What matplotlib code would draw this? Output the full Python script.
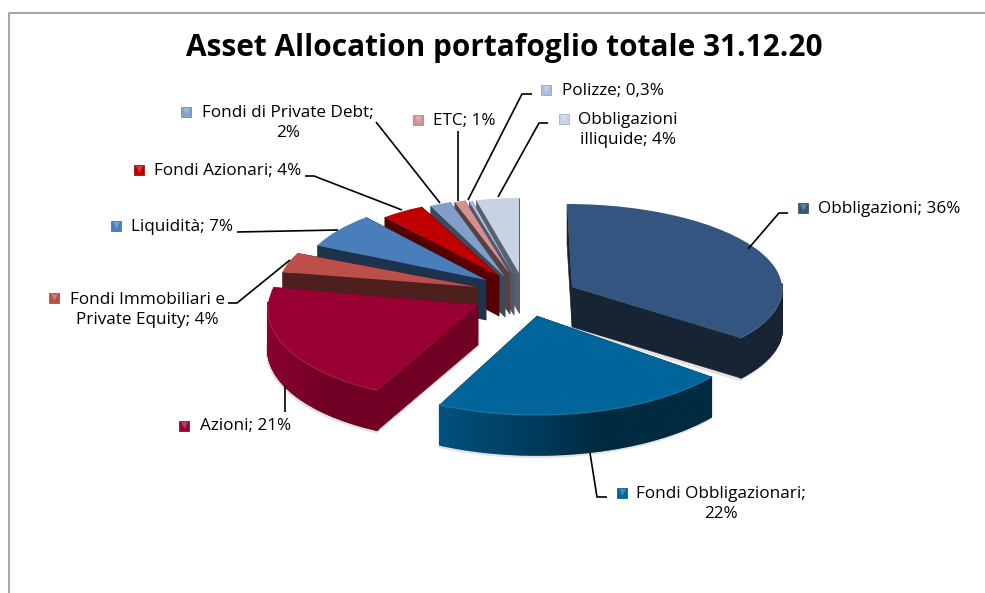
import numpy as np
import matplotlib
matplotlib.use("Agg")
import matplotlib.pyplot as plt
from matplotlib.colors import to_rgb
from matplotlib.patches import Polygon
from matplotlib.collections import PolyCollection
from matplotlib.lines import Line2D
from matplotlib.transforms import Affine2D

# ---------- data ----------
title = "Asset Allocation portafoglio totale 31.12.20"
categories = ["Obbligazioni", "Fondi Obbligazionari", "Azioni", "Fondi Immobiliari e Private Equity",
              "Liquidità", "Fondi Azionari", "Fondi di Private Debt", "ETC", "Polizze", "Obbligazioni illiquide"]
values = [36, 22, 21, 4, 7, 4, 2, 1, 0.3, 4]
labels = ["Obbligazioni; 36%", "Fondi Obbligazionari;\n22%", "Azioni; 21%",
          "Fondi Immobiliari e\nPrivate Equity; 4%", "Liquidità; 7%", "Fondi Azionari; 4%",
          "Fondi di Private Debt;\n2%", "ETC; 1%", "Polizze; 0,3%", "Obbligazioni\nilliquide; 4%"]

# ---------- style ----------
top_colors = ["#34557f", "#00659a", "#990033", "#bc4f4a", "#4a7eba", "#c00000", "#829fc9", "#d39291", "#a9bfdc", "#c7d2e5"]
side_left = ["#162434", "#00527f", "#8a002e", "#4f1f1e", "#1d324b", "#570000", "#3d4a5e", "#5a4141", "#4e5a6b", "#5a606b"]
side_right = ["#162434", "#002a40", "#6f0024", "#4f1f1e", "#1d324b", "#570000", "#3d4a5e", "#5a4141", "#4e5a6b", "#5a606b"]

# ---------- layout (pixels of the 985x593 picture; pseudo-perspective per slice) ----------
W, H = 985, 593
apex = [(572, 287), (537, 316), (478, 305), (477, 287), (486, 280), (499, 276), (505, 277), (510, 274), (514, 275), (519, 273)]
radii = [(210, 83), (221, 99), (210, 95), (198, 80), (186, 82), (177, 77), (170, 79), (171, 76), (170, 76), (174, 75)]
shear = [-5, 0, 9, 0, 0, 0, 0, 0, 0, 0]
depth = 40
paint_order = [0, 9, 8, 7, 6, 5, 4, 3, 2, 1]
text_pos = [(889, 209), (721, 504), (246, 426), (147, 310), (182, 227), (228, 171), (288, 123), (464, 121), (613, 91), (628, 130)]
marker_pos = [(803, 208), (622, 493), (184, 426), (54, 298), (116, 226), (139, 170), (186, 112), (418, 120), (546, 90), (564, 119)]
leaders = [[(748, 249), (779, 213), (788, 213)],
           [(590, 453), (597, 497), (607, 497)],
           [(285, 385), (285, 412)],
           [(290, 260), (237, 303), (228, 303)],
           [(338, 230), (237, 232)],
           [(402, 210), (314, 176), (305, 176)],
           [(440, 203), (376, 122)],
           [(458, 201), (458, 131)],
           [(468, 200), (522, 94), (532, 94)],
           [(498, 197), (539, 123), (548, 123)]]

plt.rcParams["font.family"] = ["Open Sans", "DejaVu Sans"]
fig = plt.figure(figsize=(W / 100, H / 100), dpi=100, facecolor="white")
ax = fig.add_axes([0, 0, 1, 1])
wedges, _ = ax.pie(values, startangle=90, counterclock=False, colors=top_colors, wedgeprops=dict(linewidth=0))
ax.set_aspect("auto")
ax.set_xlim(0, W)
ax.set_ylim(0, H)
ax.axis("off")


def mix(a, b, t):
    a, b = np.array(to_rgb(a)), np.array(to_rgb(b))
    return tuple(a + (b - a) * t)


for z, i in enumerate(paint_order):
    w = wedges[i]
    px, py = apex[i]
    Ax, Ay = px, H - py
    rx, ry = radii[i]
    sx = shear[i]
    w.set_transform(Affine2D.from_values(rx, 0, sx, ry, Ax, Ay) + ax.transData)
    base = 10 + z * 10
    w.set_zorder(base + 5)
    ang = np.radians(np.arange(w.theta1, w.theta2 + 0.01, 1.0))
    if ang[-1] < np.radians(w.theta2):
        ang = np.append(ang, np.radians(w.theta2))
    xs, ys = Ax + rx * np.cos(ang) + sx * np.sin(ang), Ay + ry * np.sin(ang)
    # soft shadow under the slice
    front = np.sin(ang) < 0.15
    if front.any():
        sxs, sys = xs[front], ys[front]
        ax.add_patch(Polygon(np.r_[np.c_[sxs - 1, sys - depth - 2], [[Ax - 1, Ay - depth - 2]]],
                             closed=True, fc="#e2e2e2", ec="#e2e2e2", lw=1.5, zorder=base))
    # radial cut faces
    for k in (0, -1):
        ax.add_patch(Polygon([(Ax, Ay), (xs[k], ys[k]), (xs[k], ys[k] - depth), (Ax, Ay - depth)],
                             closed=True, fc=side_right[i], ec=side_right[i], lw=0.4, zorder=base + 1))
    # outer rim, strip by strip
    polys, cols = [], []
    x0, x1 = xs.min(), xs.max()
    for j in range(len(ang) - 1):
        if np.sin(ang[j]) < 0.02 or np.sin(ang[j + 1]) < 0.02:
            polys.append([(xs[j], ys[j]), (xs[j + 1], ys[j + 1]),
                          (xs[j + 1], ys[j + 1] - depth), (xs[j], ys[j] - depth)])
            t = min(1.0, (0.5 * (xs[j] + xs[j + 1]) - x0) / max(x1 - x0, 1) * 1.7)
            cols.append(mix(side_left[i], side_right[i], t))
    if polys:
        ax.add_collection(PolyCollection(polys, facecolors=cols, edgecolors=cols, linewidths=1.2, zorder=base + 2))
        # bevel highlight along the front of the top face
        mask = np.sin(ang) < 0.02
        ax.plot(xs[mask], ys[mask], color=mix(top_colors[i], "#ffffff", 0.12), lw=0.8, zorder=base + 6)

# title and frame
ax.text(504, H - 48, title, ha="center", va="center", fontsize=21.4, fontweight="bold", color="black", zorder=300)
fig.add_artist(Line2D([8.5 / W, 8.5 / W, 1], [0, 1 - 12.5 / H, 1 - 12.5 / H], color="#a6a6a6", lw=1.5))

# leader lines, keys, labels
for i, lab in enumerate(labels):
    pts = np.array(leaders[i], float)
    ax.plot(pts[:, 0], H - pts[:, 1], color="black", lw=1.2, zorder=250, solid_capstyle="butt")
    mx, my = marker_pos[i]
    ax.scatter([mx], [H - my], marker="s", s=48, c=[top_colors[i]], edgecolors=[mix(top_colors[i], "#000000", 0.2)],
               linewidths=0.5, zorder=260)
    ax.scatter([mx], [H - my + 1.5], marker="v", s=24, c=[mix(top_colors[i], "#ffffff", 0.25)], linewidths=0, zorder=261)
    tx, ty = text_pos[i]
    ax.text(tx, H - ty, lab, ha="center", va="center", fontsize=12.3, color="black", linespacing=1.28, zorder=270)

fig.savefig("out.png", dpi=100, facecolor="white")
